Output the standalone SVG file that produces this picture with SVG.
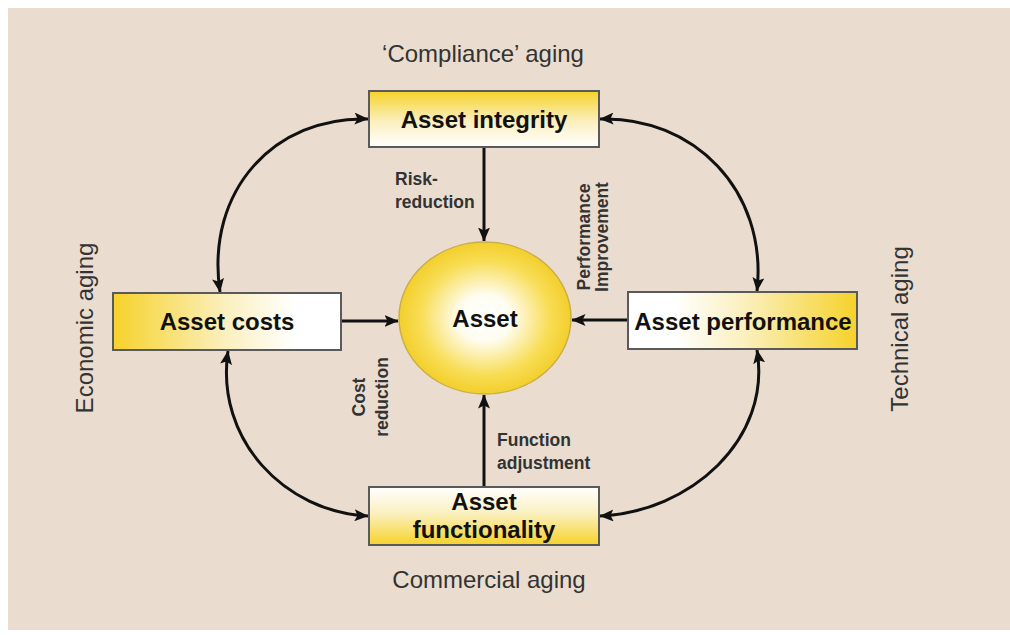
<svg xmlns="http://www.w3.org/2000/svg" width="1010" height="635" viewBox="0 0 1010 635">
  <defs>
    <linearGradient id="gTop" x1="0" y1="0" x2="0" y2="1">
      <stop offset="0" stop-color="#F6D22A"/>
      <stop offset="0.55" stop-color="#FBF0C0"/>
      <stop offset="1" stop-color="#FFFFFF"/>
    </linearGradient>
    <linearGradient id="gBottom" x1="0" y1="0" x2="0" y2="1">
      <stop offset="0" stop-color="#FFFFFF"/>
      <stop offset="0.45" stop-color="#FBF0C0"/>
      <stop offset="1" stop-color="#F6D22A"/>
    </linearGradient>
    <linearGradient id="gLeft" x1="0" y1="0" x2="1" y2="0">
      <stop offset="0" stop-color="#F6D22A"/>
      <stop offset="0.5" stop-color="#FBF0C0"/>
      <stop offset="0.8" stop-color="#FFFFFF"/>
    </linearGradient>
    <linearGradient id="gRight" x1="0" y1="0" x2="1" y2="0">
      <stop offset="0.2" stop-color="#FFFFFF"/>
      <stop offset="0.5" stop-color="#FBF0C0"/>
      <stop offset="1" stop-color="#F6D22A"/>
    </linearGradient>
    <radialGradient id="gCircle" cx="0.5" cy="0.5" r="0.5">
      <stop offset="0" stop-color="#FFFFFF"/>
      <stop offset="0.3" stop-color="#FFFDF2"/>
      <stop offset="0.75" stop-color="#F8DD55"/>
      <stop offset="1" stop-color="#F3CF2C"/>
    </radialGradient>
    <marker id="ah" viewBox="0 0 14 12" refX="13.5" refY="6" markerWidth="14" markerHeight="12" orient="auto-start-reverse" markerUnits="userSpaceOnUse">
      <path d="M0,0 L14,6 L0,12 L3,6 z" fill="#111"/>
    </marker>
    <style>
      .box { stroke: #5a5a5a; stroke-width: 2; }
      .lbl { font-family: "Liberation Sans", Arial, sans-serif; font-weight: bold; font-size: 24px; fill: #111; text-anchor: middle; }
      .small { font-family: "Liberation Sans", Arial, sans-serif; font-weight: bold; font-size: 17.5px; fill: #333; }
      .aging { font-family: "Liberation Sans", Arial, sans-serif; font-size: 24px; fill: #333; text-anchor: middle; }
      .conn { fill: none; stroke: #111; stroke-width: 3; marker-end: url(#ah); }
      .bi { marker-start: url(#ah); }
    </style>
  </defs>

  <rect x="0" y="0" width="1010" height="635" fill="#FFFFFF"/>
  <rect x="8" y="8" width="1002" height="622" fill="#EADDCF"/>

  <g id="connectors">
    <path class="conn" d="M484,147 L484,241"/>
    <path class="conn" d="M341,321 L398,321"/>
    <path class="conn" d="M628,320 L572,320"/>
    <path class="conn" d="M484,487 L484,395"/>
    <path class="conn bi" d="M368,119 C275,116 205,190 220,292"/>
    <path class="conn bi" d="M600,119 C693,116 768,190 757,291"/>
    <path class="conn bi" d="M228,351 C215,440 285,512 368,516"/>
    <path class="conn bi" d="M757,350 C772,440 690,512 600,516"/>
  </g>

  <g id="asset">
    <ellipse cx="485" cy="318" rx="86" ry="76" fill="url(#gCircle)" stroke="#C9AE4A" stroke-width="1.5"/>
    <text class="lbl" x="485" y="327">Asset</text>
  </g>

  <g id="asset-integrity">
    <rect class="box" x="369" y="91" width="230" height="56" fill="url(#gTop)"/>
    <text class="lbl" x="484" y="128">Asset integrity</text>
  </g>

  <g id="asset-costs">
    <rect class="box" x="113" y="293" width="228" height="57" fill="url(#gLeft)"/>
    <text class="lbl" x="227" y="330">Asset costs</text>
  </g>

  <g id="asset-performance">
    <rect class="box" x="628" y="292" width="229" height="57" fill="url(#gRight)"/>
    <text class="lbl" x="743" y="330">Asset performance</text>
  </g>

  <g id="asset-functionality">
    <rect class="box" x="369" y="487" width="230" height="58" fill="url(#gBottom)"/>
    <text class="lbl" x="484" y="510">Asset</text>
    <text class="lbl" x="484" y="538">functionality</text>
  </g>

  <g id="labels">
    <text class="small" x="395" y="185">Risk-</text>
    <text class="small" x="395" y="208">reduction</text>
    <text class="small" x="497" y="446">Function</text>
    <text class="small" x="497" y="469">adjustment</text>
    <text class="small" text-anchor="middle" transform="translate(590,237) rotate(-90)">Performance</text>
    <text class="small" text-anchor="middle" transform="translate(608,237) rotate(-90)">Improvement</text>
    <text class="small" text-anchor="middle" transform="translate(365,397) rotate(-90)">Cost</text>
    <text class="small" text-anchor="middle" transform="translate(388,397) rotate(-90)">reduction</text>
  </g>

  <g id="aging">
    <text class="aging" x="483" y="62">‘Compliance’ aging</text>
    <text class="aging" x="489" y="588">Commercial aging</text>
    <text class="aging" transform="translate(93,328) rotate(-90)">Economic aging</text>
    <text class="aging" transform="translate(908,329) rotate(-90)">Technical aging</text>
  </g>
</svg>
